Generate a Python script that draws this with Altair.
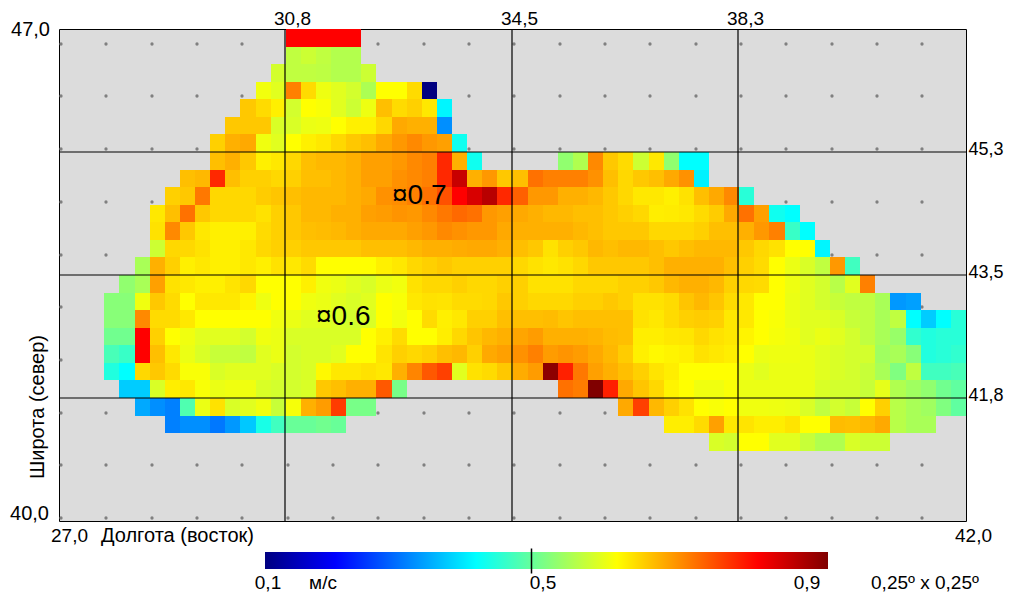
import altair as alt
import pandas as pd

# Cell speeds in m/s x 1000: (row from the top, first column from the left, values)
ROW_00 = (0, 15, [800, 800, 800, 800, 800])
ROW_01 = (1, 15, [550, 560, 550, 540, 540])
ROW_02 = (2, 14, [565, 550, 550, 548, 540, 540, 560])
ROW_03 = (3, 13, [590, 576, 700, 628, 587, 576, 565, 535, 600, 600, 628, 100])
ROW_04 = (4, 12, [643, 628, 612, 565, 600, 595, 576, 560, 587, 650, 628, 637, 618, 393])
ROW_05 = (5, 11, [643, 643, 643, 570, 570, 584, 587, 600, 612, 612, 631, 668, 662, 662, 312])
ROW_06 = (6, 10, [637, 662, 668, 588, 576, 600, 612, 618, 631, 643, 650, 668, 681, 693, 681, 675, 412])
ROW_07A = (7, 10, [650, 662, 643, 612, 618, 631, 650, 656, 656, 662, 675, 675, 681, 693, 700, 769, 662, 412])
ROW_07B = (7, 33, [513, 538, 693, 643, 628, 560, 618, 513, 400, 400])
ROW_08 = (8, 8, [650, 656, 769, 650, 637, 637, 631, 637, 650, 650, 656, 662, 675, 675, 687, 693, 700, 769, 843, 662,
                 681, 643, 650, 712, 700, 700, 700, 687, 650, 631, 643, 650, 668, 687, 389])
ROW_09 = (9, 7, [637, 643, 706, 631, 631, 631, 640, 646, 650, 656, 656, 656, 662, 668, 687, 690, 700, 712, 737, 800,
                 831, 856, 769, 725, 681, 681, 662, 662, 656, 643, 631, 618, 618, 612, 623, 650, 668, 693, 431])
ROW_10 = (10, 6, [618, 650, 712, 643, 631, 631, 631, 623, 637, 643, 656, 656, 662, 662, 675, 678, 684, 681, 693, 706,
                  718, 712, 681, 675, 668, 662, 656, 656, 650, 650, 643, 637, 631, 613, 615, 618, 628, 640, 668, 712,
                  675, 412, 400])
ROW_11 = (11, 6, [623, 693, 643, 618, 612, 612, 612, 628, 637, 643, 650, 653, 656, 662, 668, 668, 668, 675, 681, 693,
                  687, 681, 681, 668, 662, 662, 662, 662, 656, 650, 643, 643, 643, 631, 631, 631, 637, 650, 650, 662,
                  681, 700, 444, 400])
ROW_12 = (12, 6, [560, 631, 631, 623, 612, 612, 618, 631, 637, 637, 643, 643, 643, 643, 650, 650, 650, 656, 662, 662,
                  665, 668, 668, 662, 650, 643, 623, 637, 643, 656, 650, 656, 656, 650, 643, 650, 656, 656, 656, 643,
                  631, 623, 600, 600, 393])
ROW_13 = (13, 5, [532, 662, 637, 612, 618, 612, 612, 618, 612, 623, 618, 628, 600, 600, 600, 600, 612, 618, 631, 637,
                  643, 637, 637, 637, 637, 631, 623, 618, 623, 631, 643, 643, 643, 643, 650, 662, 662, 662, 662, 650,
                  637, 628, 600, 584, 570, 550, 681, 450])
ROW_14 = (14, 4, [513, 532, 675, 623, 618, 612, 612, 621, 631, 600, 600, 600, 612, 588, 584, 576, 570, 584, 590, 623,
                  631, 631, 637, 631, 631, 637, 637, 623, 623, 623, 631, 631, 631, 637, 637, 643, 656, 662, 662, 656,
                  637, 631, 628, 600, 587, 576, 565, 544, 576, 700])
ROW_15 = (15, 3, [506, 506, 588, 643, 628, 600, 618, 618, 618, 609, 587, 600, 600, 588, 584, 576, 570, 576, 600, 595,
                  618, 623, 621, 628, 628, 631, 643, 637, 631, 631, 631, 637, 637, 643, 637, 623, 623, 628, 646, 656,
                  646, 628, 618, 600, 600, 584, 576, 565, 556, 550, 550, 532, 319, 325])
ROW_16 = (16, 3, [506, 506, 693, 628, 628, 618, 600, 600, 600, 600, 600, 588, 584, 576, 576, 570, 565, 570, 600, 590,
                  600, 628, 612, 618, 637, 637, 650, 650, 650, 653, 646, 650, 650, 650, 650, 623, 618, 628, 637, 640,
                  637, 618, 618, 600, 595, 584, 576, 576, 570, 556, 550, 532, 550, 400, 360, 400, 431])
ROW_17 = (17, 3, [488, 488, 800, 637, 600, 588, 576, 576, 576, 565, 588, 584, 570, 570, 570, 570, 570, 600, 612, 628,
                  600, 600, 613, 631, 646, 656, 662, 671, 678, 662, 662, 662, 659, 653, 650, 613, 613, 618, 620, 631,
                  623, 618, 609, 600, 593, 588, 576, 584, 576, 565, 550, 532, 519, 438, 425, 431, 431])
ROW_18 = (18, 3, [456, 444, 800, 650, 618, 584, 570, 556, 556, 550, 576, 584, 565, 570, 570, 576, 600, 600, 621, 637,
                  631, 637, 650, 656, 637, 668, 675, 687, 700, 678, 684, 678, 668, 656, 640, 612, 605, 609, 612, 623,
                  618, 613, 600, 584, 587, 587, 584, 576, 570, 565, 565, 525, 532, 506, 425, 431, 438])
ROW_19 = (19, 3, [425, 400, 631, 643, 628, 595, 595, 570, 576, 576, 576, 570, 565, 570, 605, 618, 618, 623, 618, 662,
                  696, 731, 750, 576, 623, 628, 643, 665, 678, 890, 775, 706, 675, 662, 650, 637, 621, 613, 600, 600,
                  600, 600, 584, 576, 584, 584, 584, 576, 570, 565, 556, 532, 500, 550, 450, 450, 456])
ROW_20A = (20, 4, [360, 360, 570, 613, 618, 595, 584, 588, 588, 570, 565, 565, 570, 643, 650, 662, 662, 731, 494])
ROW_20B = (20, 33, [712, 703, 900, 775, 668, 646, 631, 609, 600, 588, 588, 595, 584, 584, 584, 584, 584, 570, 565, 565,
                    556, 580, 538, 525, 513, 488, 475])
ROW_21A = (21, 5, [332, 312, 300, 462, 584, 623, 570, 576, 588, 556, 593, 662, 678, 753, 494, 494])
ROW_21B = (21, 37, [668, 750, 656, 637, 623, 600, 595, 600, 588, 588, 587, 584, 570, 550, 565, 556, 600, 637, 544, 532,
                    525, 500, 475])
ROW_22A = (22, 7, [300, 312, 312, 294, 319, 357, 419, 450, 481, 481, 488, 481])
ROW_22B = (22, 40, [613, 613, 628, 675, 618, 621, 613, 613, 621, 600, 600, 653, 650, 656, 668, 544, 532, 532])
ROW_23 = (23, 43, [570, 565, 600, 600, 576, 576, 556, 538, 538, 570, 560, 560])

ROWS = [ROW_00, ROW_01, ROW_02, ROW_03, ROW_04, ROW_05, ROW_06, ROW_07A, ROW_07B, ROW_08, ROW_09, ROW_10, ROW_11,
        ROW_12, ROW_13, ROW_14, ROW_15, ROW_16, ROW_17, ROW_18, ROW_19, ROW_20A, ROW_20B, ROW_21A, ROW_21B,
        ROW_22A, ROW_22B, ROW_23]

GRID_LON = [30.735, 34.485, 38.235]
GRID_LAT = [45.25, 43.5, 41.75]
DOT_LON = [27.03, 27.78, 28.53, 29.28, 30.03, 30.78, 31.53, 32.28, 33.03, 33.78,
           34.53, 35.28, 36.03, 36.78, 37.53, 38.28, 39.03, 39.78, 40.53, 41.28]
DOT_LAT = [40.04, 40.79, 41.54, 42.29, 43.04, 43.79, 44.54, 45.29, 46.04, 46.79]
MID_MARK = [34.814]
SCALE_STOPS = [0.1, 0.2, 0.3, 0.4, 0.5, 0.6, 0.7, 0.8, 0.9]
SCALE_COLORS = ["#000080", "#0000ff", "#0080ff", "#00ffff", "#80ff80", "#ffff00", "#ff8000", "#ff0000", "#800000"]

FONT = "Liberation Sans"
X0, Y0 = 59, 29
W, H = 907, 492

cells = []
for r, c0, vals in ROWS:
    for k, v in enumerate(vals):
        c = c0 + k
        cells.append({"lon0": 27 + c * 0.25, "lon1": 27 + (c + 1) * 0.25,
                      "lat1": 47 - r * 0.25, "lat0": 47 - (r + 1) * 0.25, "speed": v / 1000})
cells = pd.DataFrame(cells)
dots = pd.DataFrame([{"lon": a, "lat": b} for a in DOT_LON for b in DOT_LAT])

x_scale = alt.Scale(domain=[27, 42], nice=False, zero=False, round=True)
y_scale = alt.Scale(domain=[40, 47], nice=False, zero=False, round=True)
color_scale = alt.Scale(domain=SCALE_STOPS, range=SCALE_COLORS, type="linear", clamp=True, interpolate="rgb")

x_axis = alt.Axis(orient="top", values=GRID_LON, title=None, grid=False, ticks=False, domain=False,
                  labelExpr="datum.value < 32 ? '30,8' : datum.value < 36 ? '34,5' : '38,3'",
                  labelFont=FONT, labelFontSize=19, labelColor="black", labelPadding=1, labelOffset=7)
y_axis = alt.Axis(orient="right", values=GRID_LAT, title=None, grid=False, ticks=False, domain=False,
                  labelExpr="datum.value == 45.25 ? '45,3' : datum.value == 43.5 ? '43,5' : '41,8'",
                  labelFont=FONT, labelFontSize=18, labelColor="black", labelPadding=2, labelOffset=-3)
mid_axis = alt.Axis(orient="bottom", values=MID_MARK, title=None, grid=False, domain=False, labels=False,
                    ticks=True, tickSize=25, tickColor="black", tickWidth=1.5, offset=27, zindex=1)

dot_layer = alt.Chart(dots).mark_circle(size=11, color="#808080", opacity=1).encode(
    x=alt.X("lon:Q", scale=x_scale, axis=x_axis),
    y=alt.Y("lat:Q", scale=y_scale, axis=y_axis),
)
legend = alt.Legend(type="gradient", orient="none", legendX=206, legendY=523, direction="horizontal", title=None,
                    gradientLength=563, gradientThickness=17, labelExpr="''", values=[0.1, 0.9],
                    gradientStrokeWidth=0, padding=0)
cell_layer = alt.Chart(cells).mark_rect(opacity=1).encode(
    x=alt.X("lon0:Q", scale=x_scale, axis=None),
    x2="lon1:Q",
    y=alt.Y("lat0:Q", scale=y_scale, axis=y_axis),
    y2="lat1:Q",
    color=alt.Color("speed:Q", scale=color_scale, legend=legend),
)
vline = alt.Chart(pd.DataFrame({"lon": GRID_LON})).mark_rule(color="black", strokeWidth=1.2).encode(
    x=alt.X("lon:Q", scale=x_scale, axis=None))
hline = alt.Chart(pd.DataFrame({"lat": GRID_LAT})).mark_rule(color="black", strokeWidth=1.2).encode(
    y=alt.Y("lat:Q", scale=y_scale, axis=y_axis))
bar_tick = alt.Chart(pd.DataFrame({"v": MID_MARK})).mark_rule(opacity=0).encode(
    x=alt.X("v:Q", scale=x_scale, axis=mid_axis))


def label(text, px, py, size=19, align="center", angle=0):
    """Text placed by its position on the page."""
    return alt.Chart(pd.DataFrame({"t": [text]})).mark_text(
        font=FONT, fontSize=size, align=align, baseline="middle", angle=angle, color="black"
    ).encode(text="t:N", x=alt.value(px - X0), y=alt.value(py - Y0))


layers = [
    dot_layer, cell_layer, vline, hline, bar_tick,
    label("¤0.7", 392, 196, 28, "left"), label("¤0.6", 316, 317, 28, "left"),
    label("47,0", 50, 30, 20, "right"), label("40,0", 49, 514, 20, "right"),
    label("27,0", 51, 536, 19, "left"), label("Долгота (восток)", 101, 536, 20, "left"),
    label("42,0", 955, 536, 19, "left"),
    label("Широта (север)", 38, 407, 20, "center", 270),
    label("0,1", 268, 583, 19), label("м/с", 323, 583, 19), label("0,5", 543, 583, 19), label("0,9", 807, 583, 19),
    label("0,25º x 0,25º", 925, 583, 19),
]

chart = alt.layer(*layers).resolve_scale(x="shared", y="shared").resolve_axis(x="independent").properties(
    width=W, height=H,
    autosize=alt.AutoSizeParams(type="none"),
    padding={"left": X0 - 8, "top": Y0 - 8, "right": 39, "bottom": 72},
    background="white",
).configure_view(fill="#dcdcdc", stroke="black", strokeWidth=1)

chart.save("out.html", embed_options={"renderer": "svg", "actions": False})
